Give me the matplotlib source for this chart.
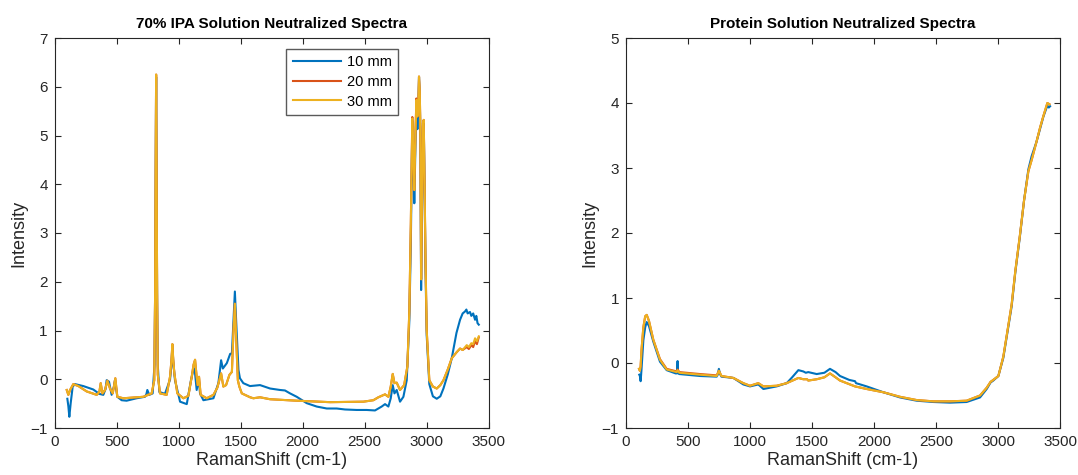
import matplotlib
matplotlib.use("Agg")
import matplotlib.pyplot as plt

# MATLAB default colour order
c10 = '#0072BD'
c20 = '#D95319'
c30 = '#EDB120'
series_names = ['10 mm', '20 mm', '30 mm']

# ---- 70% IPA solution ----
ipa_x_10 = [102, 110, 118, 129, 145, 164, 231, 311, 360, 392, 410, 419, 438, 459, 478, 486, 505, 540, 580, 661,
            728, 740, 747, 763, 790, 805, 810, 814, 818, 822, 826, 831, 844, 889, 930, 942, 949, 956, 970, 1011,
            1065, 1099, 1118, 1128, 1145, 1161, 1172, 1199, 1280, 1320, 1342, 1356, 1388, 1415, 1429, 1442, 1453,
            1463, 1482, 1494, 1521, 1575, 1656, 1737, 1817, 1857, 1898, 1952, 2032, 2113, 2194, 2274, 2341, 2436,
            2516, 2583, 2637, 2664, 2691, 2710, 2726, 2740, 2758, 2785, 2812, 2839, 2860, 2872, 2884, 2892, 2900,
            2910, 2917, 2925, 2932, 2938, 2944, 2949, 2955, 2962, 2970, 2976, 2983, 2990, 3000, 3021, 3050, 3081,
            3110, 3135, 3170, 3202, 3240, 3269, 3290, 3309, 3320, 3330, 3349, 3360, 3375, 3390, 3400, 3410, 3420]
ipa_y_10 = [-0.40, -0.55, -0.77, -0.49, -0.15, -0.10, -0.14, -0.21, -0.30, -0.32, -0.20, -0.02, -0.05, -0.32,
            -0.15, -0.02, -0.36, -0.43, -0.44, -0.39, -0.36, -0.30, -0.22, -0.32, -0.29, 0.3, 1.8, 4.0, 6.2, 4.0,
            1.6, 0.3, -0.26, -0.30, -0.01, 0.3, 0.70, 0.35, -0.02, -0.46, -0.51, -0.02, 0.19, 0.22, -0.22, 0.02,
            -0.29, -0.43, -0.39, -0.08, 0.39, 0.22, 0.33, 0.52, 0.53, 1.22, 1.80, 1.22, 0.19, 0.02, -0.08, -0.14,
            -0.12, -0.19, -0.22, -0.23, -0.29, -0.36, -0.49, -0.56, -0.60, -0.60, -0.62, -0.63, -0.63, -0.64,
            -0.56, -0.51, -0.56, -0.39, -0.12, -0.29, -0.22, -0.46, -0.36, -0.02, 1.2, 2.8, 5.3, 4.6, 3.61, 4.9,
            5.6, 5.13, 5.5, 6.2, 5.8, 5.0, 1.83, 3.5, 5.2, 5.3, 3.9, 2.3, 0.9, -0.1, -0.35, -0.40, -0.35, -0.19,
            0.10, 0.43, 0.95, 1.22, 1.35, 1.39, 1.43, 1.35, 1.38, 1.30, 1.35, 1.22, 1.30, 1.15, 1.12]

ipa_x_2030 = [97, 110, 124, 150, 191, 258, 339, 360, 371, 385, 406, 425, 446, 468, 489, 505, 554, 715, 782, 803,
              810, 814, 818, 822, 826, 831, 849, 903, 930, 942, 949, 956, 965, 989, 1038, 1078, 1105, 1120, 1132,
              1145, 1153, 1164, 1177, 1226, 1280, 1312, 1342, 1360, 1382, 1409, 1429, 1442, 1453, 1463, 1477,
              1489, 1509, 1534, 1576, 1602, 1656, 1737, 1952, 2221, 2490, 2570, 2610, 2664, 2691, 2710, 2726,
              2740, 2758, 2785, 2818, 2844, 2860, 2872, 2884, 2892, 2900, 2910, 2917, 2925, 2932, 2938, 2944,
              2949, 2955, 2962, 2970, 2976, 2983, 2990, 3000, 3021, 3050, 3081, 3110, 3135, 3170, 3202, 3240,
              3269, 3290, 3323, 3340, 3360, 3375, 3390, 3405, 3420]
ipa_y_30 = [-0.22, -0.32, -0.22, -0.10, -0.14, -0.25, -0.32, -0.26, -0.08, -0.29, -0.22, -0.03, -0.19, -0.29,
            0.02, -0.36, -0.39, -0.36, -0.29, -0.02, 1.8, 4.2, 6.25, 4.2, 1.8, 0.1, -0.29, -0.32, 0.05, 0.4, 0.72,
            0.4, 0.12, -0.29, -0.39, -0.34, 0.05, 0.3, 0.40, 0.05, -0.12, 0.05, -0.32, -0.39, -0.32, -0.17, 0.12,
            -0.15, -0.12, 0.09, 0.15, 1.01, 1.55, 0.87, -0.02, -0.15, -0.29, -0.32, -0.37, -0.39, -0.37, -0.41,
            -0.44, -0.47, -0.46, -0.43, -0.37, -0.31, -0.36, -0.15, 0.11, -0.08, -0.07, -0.22, -0.12, 0.26, 1.4,
            3.2, 5.35, 4.7, 3.88, 5.1, 5.73, 5.39, 5.6, 6.21, 5.9, 5.13, 2.05, 3.7, 5.25, 5.32, 4.0, 2.5, 1.01,
            -0.02, -0.15, -0.19, -0.12, -0.02, 0.2, 0.43, 0.55, 0.63, 0.60, 0.70, 0.66, 0.74, 0.72, 0.84, 0.78,
            0.88]
ipa_y_20 = [-0.22, -0.32, -0.22, -0.10, -0.14, -0.25, -0.32, -0.26, -0.08, -0.29, -0.22, -0.03, -0.19, -0.29,
            0.02, -0.36, -0.39, -0.36, -0.29, -0.02, 1.8, 4.2, 6.25, 4.2, 1.8, 0.1, -0.29, -0.32, 0.05, 0.4, 0.72,
            0.4, 0.12, -0.29, -0.39, -0.34, 0.05, 0.3, 0.40, 0.05, -0.12, 0.05, -0.32, -0.39, -0.32, -0.17, 0.12,
            -0.15, -0.12, 0.09, 0.15, 1.01, 1.55, 0.87, -0.02, -0.15, -0.29, -0.32, -0.37, -0.39, -0.37, -0.41,
            -0.44, -0.47, -0.46, -0.43, -0.37, -0.31, -0.36, -0.15, 0.11, -0.08, -0.07, -0.22, -0.12, 0.26, 1.4,
            3.2, 5.38, 4.7, 3.88, 5.1, 5.76, 5.39, 5.6, 6.21, 5.9, 5.13, 2.05, 3.7, 5.25, 5.32, 4.0, 2.5, 1.01,
            -0.02, -0.15, -0.19, -0.12, -0.02, 0.2, 0.43, 0.55, 0.63, 0.60, 0.66, 0.62, 0.70, 0.66, 0.78, 0.72,
            0.86]

# ---- protein solution ----
prot_x_10 = [107, 112, 118, 125, 140, 155, 167, 185, 220, 274, 328, 400, 409, 412, 416, 420, 430, 597, 731, 740,
             749, 758, 770, 866, 946, 1000, 1067, 1108, 1215, 1296, 1340, 1390, 1430, 1450, 1470, 1538, 1600,
             1645, 1690, 1726, 1800, 1847, 1855, 1941, 2075, 2210, 2344, 2478, 2613, 2747, 2855, 2909, 2940,
             2962, 3003, 3043, 3070, 3110, 3140, 3177, 3210, 3245, 3271, 3310, 3339, 3366, 3398, 3410, 3420]
prot_y_10 = [-0.18, -0.20, -0.28, -0.10, 0.35, 0.55, 0.63, 0.57, 0.33, 0.02, -0.11, -0.16, -0.16, -0.10, 0.03,
             -0.16, -0.17, -0.20, -0.21, -0.18, -0.09, -0.17, -0.21, -0.23, -0.33, -0.36, -0.33, -0.40, -0.36,
             -0.31, -0.22, -0.11, -0.13, -0.15, -0.14, -0.17, -0.15, -0.09, -0.14, -0.20, -0.26, -0.28, -0.31,
             -0.36, -0.45, -0.53, -0.58, -0.60, -0.61, -0.60, -0.53, -0.40, -0.30, -0.27, -0.20, 0.08, 0.40,
             0.87, 1.4, 1.95, 2.5, 2.98, 3.18, 3.4, 3.6, 3.79, 3.96, 3.93, 3.95]

prot_x_2030 = [105, 112, 118, 125, 140, 155, 167, 185, 220, 274, 328, 409, 416, 430, 597, 731, 749, 770, 866, 946,
               1000, 1067, 1108, 1215, 1296, 1390, 1430, 1460, 1470, 1538, 1600, 1645, 1690, 1726, 1847, 1941,
               2075, 2210, 2344, 2478, 2613, 2747, 2855, 2909, 2940, 2962, 3003, 3043, 3070, 3110, 3140, 3177,
               3210, 3245, 3271, 3310, 3339, 3366, 3398, 3415]
prot_y_30 = [-0.09, -0.12, -0.05, 0.2, 0.55, 0.72, 0.74, 0.65, 0.36, 0.05, -0.10, -0.14, -0.11, -0.15, -0.18,
             -0.20, -0.12, -0.20, -0.23, -0.31, -0.35, -0.31, -0.36, -0.35, -0.31, -0.23, -0.25, -0.25, -0.27,
             -0.25, -0.22, -0.16, -0.22, -0.27, -0.36, -0.40, -0.45, -0.52, -0.57, -0.59, -0.59, -0.58, -0.50,
             -0.38, -0.29, -0.26, -0.20, 0.10, 0.42, 0.90, 1.42, 1.97, 2.5, 2.95, 3.12, 3.4, 3.62, 3.8, 4.0, 3.98]
prot_y_20 = [-0.09, -0.12, -0.05, 0.2, 0.55, 0.72, 0.74, 0.65, 0.36, 0.06, -0.09, -0.13, -0.10, -0.14, -0.17,
             -0.19, -0.12, -0.20, -0.23, -0.31, -0.35, -0.31, -0.36, -0.35, -0.31, -0.23, -0.25, -0.25, -0.27,
             -0.25, -0.22, -0.16, -0.22, -0.27, -0.36, -0.40, -0.45, -0.52, -0.57, -0.59, -0.59, -0.58, -0.50,
             -0.38, -0.29, -0.26, -0.20, 0.10, 0.42, 0.90, 1.42, 1.97, 2.5, 2.95, 3.12, 3.4, 3.62, 3.8, 4.0, 3.98]


plt.rcParams['font.family'] = ['Liberation Sans', 'DejaVu Sans']
axis_col = '#262626'

fig = plt.figure(figsize=(10.78, 4.75), dpi=100)
ax1 = fig.add_axes([54.7 / 1078, 47 / 475, 434 / 1078, 390 / 475])
ax2 = fig.add_axes([626 / 1078, 47 / 475, 434 / 1078, 390 / 475])


def style(ax, ymax, title):
    ax.set_xlim(0, 3500)
    ax.set_ylim(-1, ymax)
    ax.set_xticks(range(0, 3501, 500))
    ax.set_yticks(range(-1, ymax + 1))
    ax.tick_params(direction='in', top=True, right=True, length=4, width=0.8,
                   colors=axis_col, labelsize=11, pad=5)
    for s in ax.spines.values():
        s.set_color(axis_col)
        s.set_linewidth(0.8)
    ax.set_title(title, fontsize=11, fontweight='bold', color='black', pad=7.5)
    ax.set_xlabel('RamanShift (cm-1)', fontsize=13, color=axis_col, labelpad=2)
    ax.set_ylabel('Intensity', fontsize=13, color=axis_col, labelpad=2.5)


ax1.plot(ipa_x_10, ipa_y_10, color=c10, lw=1.5, label=series_names[0])
ax1.plot(ipa_x_2030, ipa_y_20, color=c20, lw=1.5, label=series_names[1])
ax1.plot(ipa_x_2030, ipa_y_30, color=c30, lw=1.5, label=series_names[2])
style(ax1, 7, '70% IPA Solution Neutralized Spectra')
leg = ax1.legend(loc='upper left', bbox_to_anchor=(0.533, 0.972), borderaxespad=0, fancybox=False,
                 framealpha=1, edgecolor='#5a5a5a', fontsize=10.5, handlelength=3.3, borderpad=0.45,
                 labelspacing=0.38, handletextpad=0.4)
leg.get_frame().set_linewidth(1.0)

ax2.plot(prot_x_10, prot_y_10, color=c10, lw=1.5)
ax2.plot(prot_x_2030, prot_y_20, color=c20, lw=1.5)
ax2.plot(prot_x_2030, prot_y_30, color=c30, lw=1.5)
style(ax2, 5, 'Protein Solution Neutralized Spectra')

fig.savefig('out.png', dpi=100)
